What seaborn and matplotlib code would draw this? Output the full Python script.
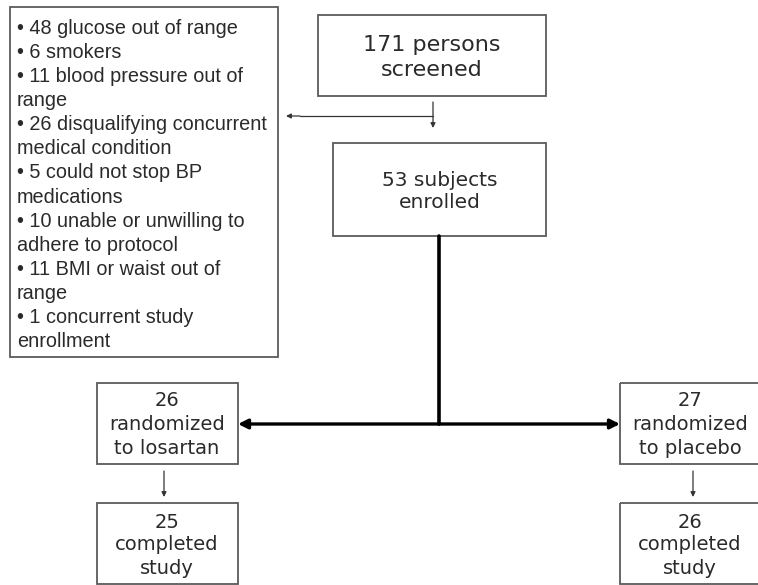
import matplotlib
matplotlib.use("Agg")
import matplotlib.pyplot as plt
import seaborn as sns
from matplotlib.patches import Rectangle

sns.set_theme(style="white")

# flow counts
screened = 171
enrolled = 53
arm_names = ["losartan", "placebo"]
randomized = [26, 27]
completed = [25, 26]

# exclusion reasons ("\n" = line break as in the figure)
excl_counts = [48, 6, 11, 26, 5, 10, 11, 1]
excl_reasons = ["glucose out of range",
                "smokers",
                "blood pressure out of\nrange",
                "disqualifying concurrent\nmedical condition",
                "could not stop BP\nmedications",
                "unable or unwilling to\nadhere to protocol",
                "BMI or waist out of\nrange",
                "concurrent study\nenrollment"]

W, H = 758, 585
fig = plt.figure(figsize=(W / 100, H / 100), dpi=100)
ax = fig.add_axes([0, 0, 1, 1])
ax.set_xlim(0, W)
ax.set_ylim(H, 0)
ax.axis("off")

EDGE = "#5a5a5a"
TXT = "#2a2a2a"


def box(x0, y0, x1, y1):
    ax.add_patch(Rectangle((x0, y0), x1 - x0, y1 - y0, fill=False,
                           edgecolor=EDGE, lw=1.3, clip_on=True))


def lines(cx, y0, step, txt, size):
    for k, t in enumerate(txt):
        ax.text(cx, y0 + k * step, t, ha="center", va="center",
                fontsize=size, color=TXT, family="DejaVu Sans")


def arrow(x0, y0, x1, y1, lw=1.0, col="#333333", ms=8):
    ax.annotate("", xy=(x1, y1), xytext=(x0, y0),
                arrowprops=dict(arrowstyle="-|>", color=col, lw=lw,
                                mutation_scale=ms, shrinkA=0, shrinkB=0))


# exclusion box
box(10, 7, 278, 357)
excl_lines = []
for n, r in zip(excl_counts, excl_reasons):
    parts = f"\u2022 {n} {r}".split("\n")
    excl_lines += parts
for k, t in enumerate(excl_lines):
    ax.text(17, 28 + k * 24.15, t, ha="left", va="center", fontsize=14.3,
            color=TXT, family="Liberation Sans")

# screened / enrolled
box(318, 15, 546, 96)
lines(432, 45, 25, [f"{screened} persons", "screened"], 16)
box(333, 143, 546, 236)
lines(440, 180, 23, [f"{enrolled} subjects", "enrolled"], 14.5)

arrow(433, 102, 433, 128, lw=0.9, ms=7)
ax.plot([433, 300], [116, 116], color="#333333", lw=0.9)
arrow(300, 116, 286, 116, lw=0.9, ms=7)

# split to arms
ax.plot([439, 439], [236, 424], color="black", lw=2.6)
arrow(439, 424, 238, 424, lw=2.4, col="black", ms=14)
arrow(439, 424, 620, 424, lw=2.4, col="black", ms=14)

# arms
arm_x = [(97, 238), (620, 766)]
arrow_x = [164, 693]
text_cx = [167, 690]
for (x0, x1), ax_, cx, name, r, c in zip(arm_x, arrow_x, text_cx,
                                          arm_names, randomized, completed):
    box(x0, 383, x1, 464)
    lines(cx, 401, 23.5, [str(r), "randomized", f"to {name}"], 14)
    arrow(ax_, 471, ax_, 497, lw=0.9, ms=7)
    box(x0, 503, x1, 584)
    lines(cx, 522, 23, [str(c), "completed", "study"], 14)

fig.savefig("out.png", dpi=100, facecolor="white")
